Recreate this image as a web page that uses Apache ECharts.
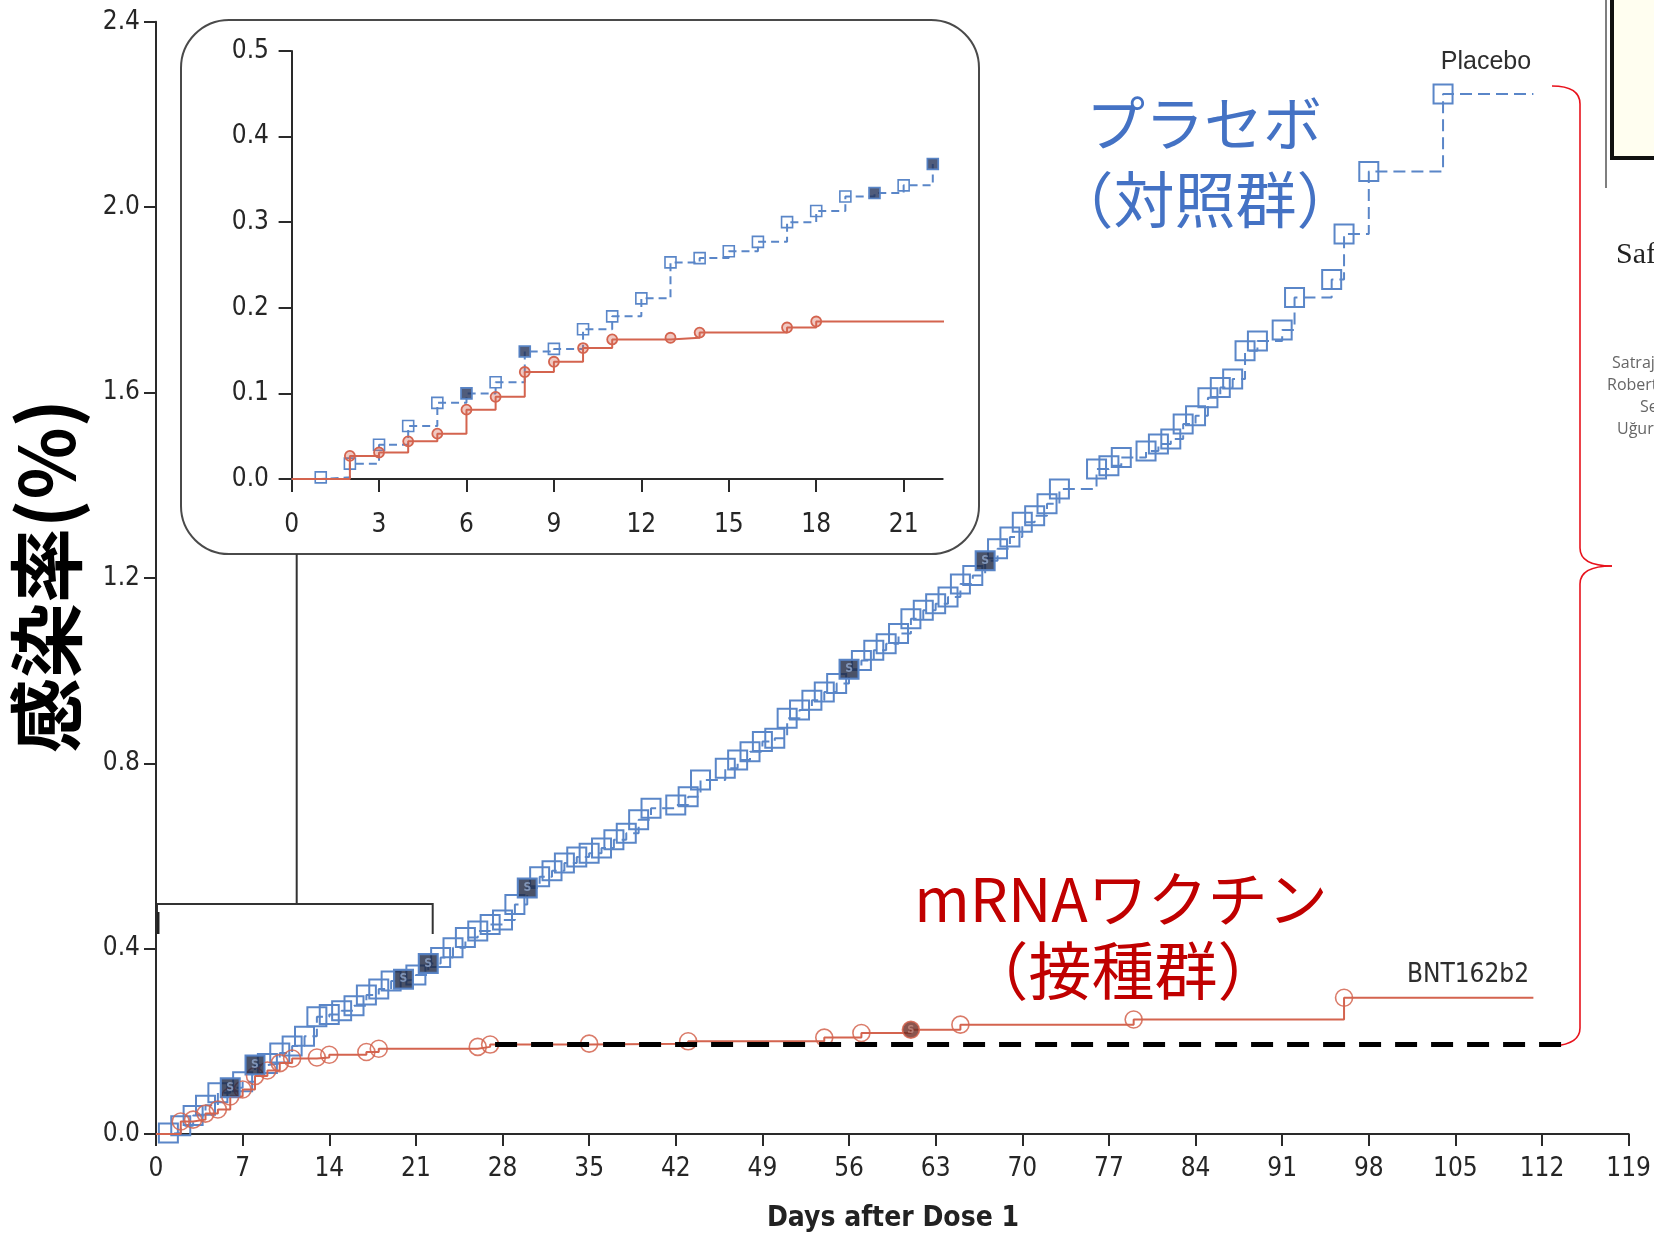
<!DOCTYPE html>
<html><head><meta charset="utf-8">
<script src="https://cdn.jsdelivr.net/npm/echarts@6/dist/echarts.min.js"></script>
<style>html,body{margin:0;padding:0;background:#fff}#c{width:1654px;height:1234px}</style>
</head><body><div id="c"></div>
<script>
// ---- data (days after dose 1, cumulative incidence %) ----
const placeboDays = [1,2,3,4,5,6,7,8,9,10,11,12,13,14,15,16,17,18,19,20,21,22,
  23,24,25,26,27,28,29,30,31,32,33,34,35,36,37,38,39,40,42,43,44,46,47,48,49,50,51,52,53,54,55,56,
  57,58,59,60,61,62,63,64,65,66,67,68,69,70,71,72,73,76,77,78,80,81,82,83,84,85,86,87,88,89,91,92,95,96,98,104];
const placeboRate = [0.002,0.018,0.040,0.062,0.089,0.100,0.113,0.149,0.152,0.175,0.190,0.211,0.253,0.258,0.266,0.277,0.300,0.313,0.330,0.334,0.343,0.368,
  0.381,0.402,0.424,0.438,0.452,0.462,0.495,0.531,0.555,0.568,0.585,0.598,0.606,0.617,0.635,0.649,0.678,0.703,0.710,0.728,0.764,0.789,0.807,0.825,0.847,0.854,0.897,0.915,0.936,0.954,0.972,1.003,
  1.022,1.044,1.058,1.080,1.112,1.130,1.144,1.159,1.187,1.205,1.237,1.263,1.288,1.320,1.334,1.360,1.392,1.435,1.442,1.460,1.474,1.489,1.500,1.532,1.550,1.589,1.611,1.629,1.690,1.711,1.735,1.805,1.844,1.942,2.077,2.244];
const placeboSevereDays = [6,8,20,22,30,56,67];
const bntDays = [2,3,4,5,6,7,8,9,10,11,13,14,17,18,26,27,35,43,54,57,61,65,79,96];
const bntRate = [0.027,0.031,0.044,0.053,0.081,0.096,0.125,0.137,0.153,0.163,0.165,0.171,0.177,0.184,0.188,0.193,0.195,0.200,0.208,0.218,0.225,0.236,0.247,0.294];
const bntSevereDays = [61];
const followUpEndDay = 111.3;
const refLineDays = [27.4, 114.3];
const refLineLevel = 0.193;
const mainYTicks = [0,0.4,0.8,1.2,1.6,2.0,2.4];
const mainXTicks = [0,7,14,21,28,35,42,49,56,63,70,77,84,91,98,105,112,119];
const insetYTicks = [0,0.1,0.2,0.3,0.4,0.5];
const insetXTicks = [0,3,6,9,12,15,18,21];
const insetMaxDay = 22.34;

// ---- styling ----
const BLUE = '#5A86C8', RED = '#D4644F', AXC = '#2a2a2a';
const NUMF = "'Liberation Sans Narrow','DejaVu Sans Condensed','Liberation Sans',sans-serif";
const CJK = "'Noto Sans CJK JP','Noto Sans CJK SC',sans-serif";

function stepData(days, rates, endDay, maxDay) {
  const d = [{value:[0,0], symbol:'none'}];
  days.forEach((x,i)=>{ if (maxDay === undefined || x <= maxDay) d.push([x, rates[i]]); });
  if (endDay !== undefined) d.push({value:[endDay, rates[rates.length-1]], symbol:'none'});
  return d;
}
function severe(sdays, days, rates, maxDay) {
  return sdays.filter(s => maxDay === undefined || s <= maxDay).map(s => [s, rates[days.indexOf(s)]]);
}
const fmt1 = v => Number(v).toFixed(1);

const chart = echarts.init(document.getElementById('c'), null, {renderer:'canvas'});
const axisLine = {show:true, lineStyle:{color:AXC, width:2}};
const axisLabelBase = {color:'#262626', fontSize:26, fontFamily:NUMF};
const BR = '#E8121C';
const brace = [
  {type:'bezierCurve', silent:true, shape:{x1:1552,y1:86,cpx1:1580,cpy1:86,x2:1580,y2:104}, style:{fill:null, stroke:BR, lineWidth:1.6}},
  {type:'line', silent:true, shape:{x1:1580,y1:104,x2:1580,y2:548}, style:{stroke:BR, lineWidth:1.6}},
  {type:'bezierCurve', silent:true, shape:{x1:1580,y1:548,cpx1:1580,cpy1:566,x2:1612,y2:566}, style:{fill:null, stroke:BR, lineWidth:1.6}},
  {type:'bezierCurve', silent:true, shape:{x1:1612,y1:566,cpx1:1580,cpy1:566,x2:1580,y2:584}, style:{fill:null, stroke:BR, lineWidth:1.6}},
  {type:'line', silent:true, shape:{x1:1580,y1:584,x2:1580,y2:1028}, style:{stroke:BR, lineWidth:1.6}},
  {type:'bezierCurve', silent:true, shape:{x1:1580,y1:1028,cpx1:1580,cpy1:1044,x2:1554,y2:1046}, style:{fill:null, stroke:BR, lineWidth:1.6}}
];

const option = {
  animation:false,
  backgroundColor:'#fff',
  grid:[
    {left:156, top:21.8, width:1474, height:1112.2},
    {left:287, top:50.9, width:655.7, height:439.7}
  ],
  xAxis:[
    {gridIndex:0, type:'value', min:0, max:119, interval:7,
     axisLine, axisTick:{show:true, length:12, lineStyle:{color:AXC, width:2}},
     axisLabel:Object.assign({margin:22}, axisLabelBase), splitLine:{show:false}},
    {gridIndex:1, type:'value', min:-0.158, max:insetMaxDay,
     axisLine, axisTick:{show:true, length:13, lineStyle:{color:AXC, width:2}, customValues:insetXTicks},
     axisLabel:Object.assign({margin:22, customValues:insetXTicks}, axisLabelBase), splitLine:{show:false}}
  ],
  yAxis:[
    {gridIndex:0, type:'value', min:0, max:2.4, interval:0.4,
     axisLine, axisTick:{show:true, length:12, lineStyle:{color:AXC, width:2}},
     axisLabel:Object.assign({margin:16, formatter:fmt1}, axisLabelBase), splitLine:{show:false}},
    {gridIndex:1, type:'value', min:-0.0135, max:0.5,
     axisLine, axisTick:{show:true, length:13, lineStyle:{color:AXC, width:2}, customValues:insetYTicks},
     axisLabel:Object.assign({margin:18, formatter:fmt1, customValues:insetYTicks}, axisLabelBase), splitLine:{show:false}}
  ],
  series:[
    {name:'Placebo', type:'line', xAxisIndex:0, yAxisIndex:0, step:'end',
     data:stepData(placeboDays, placeboRate, followUpEndDay),
     symbol:'rect', symbolSize:19, showAllSymbol:true,
     itemStyle:{color:'rgba(0,0,0,0)', borderColor:BLUE, borderWidth:2},
     lineStyle:{color:BLUE, width:2, type:[12,6]}, emphasis:{disabled:true}, z:2},
    {name:'BNT162b2', type:'line', xAxisIndex:0, yAxisIndex:0, step:'end',
     data:stepData(bntDays, bntRate, followUpEndDay),
     symbol:'circle', symbolSize:17, showAllSymbol:true,
     itemStyle:{color:'rgba(0,0,0,0)', borderColor:'rgba(212,100,79,0.85)', borderWidth:1.6},
     lineStyle:{color:RED, width:2}, emphasis:{disabled:true}, z:3},
    {name:'ref', type:'line', xAxisIndex:0, yAxisIndex:0,
     data:refLineDays.map(d=>[d, refLineLevel]), symbol:'none',
     lineStyle:{color:'#000', width:5, type:[22,14]}, emphasis:{disabled:true}, z:4},
    {name:'Placebo severe', type:'scatter', xAxisIndex:0, yAxisIndex:0,
     data:severe(placeboSevereDays, placeboDays, placeboRate), symbol:'rect', symbolSize:18,
     itemStyle:{color:'#1d2742', borderColor:BLUE, borderWidth:1.5},
     label:{show:true, formatter:'S', position:'inside', color:'#8fa6cc', fontSize:12, fontWeight:'bold', fontFamily:NUMF},
     emphasis:{disabled:true}, z:5},
    {name:'BNT severe', type:'scatter', xAxisIndex:0, yAxisIndex:0,
     data:severe(bntSevereDays, bntDays, bntRate), symbol:'circle', symbolSize:16,
     itemStyle:{color:'#6e2b22', borderColor:RED, borderWidth:1},
     label:{show:true, formatter:'S', position:'inside', color:'#c48a80', fontSize:11, fontWeight:'bold', fontFamily:NUMF},
     emphasis:{disabled:true}, z:5},
    // inset
    {name:'Placebo inset', type:'line', xAxisIndex:1, yAxisIndex:1, step:'end',
     data:stepData(placeboDays, placeboRate, undefined, 22),
     symbol:'rect', symbolSize:11, showAllSymbol:true,
     itemStyle:{color:'rgba(0,0,0,0)', borderColor:BLUE, borderWidth:1.6},
     lineStyle:{color:BLUE, width:2, type:[8,5]}, emphasis:{disabled:true}, z:2},
    {name:'BNT inset', type:'line', xAxisIndex:1, yAxisIndex:1, step:'end',
     data:stepData(bntDays, bntRate, followUpEndDay), clip:true,
     symbol:'circle', symbolSize:10, showAllSymbol:true,
     itemStyle:{color:'rgba(212,100,79,0.35)', borderColor:RED, borderWidth:1.8},
     lineStyle:{color:RED, width:2}, emphasis:{disabled:true}, z:3},
    {name:'Placebo severe inset', type:'scatter', xAxisIndex:1, yAxisIndex:1,
     data:severe(placeboSevereDays, placeboDays, placeboRate, 22), symbol:'rect', symbolSize:10,
     itemStyle:{color:'#24335a', borderColor:BLUE, borderWidth:1},
     emphasis:{disabled:true}, z:5}
  ],
  graphic:[
    {type:'rect', z:-10, silent:true, shape:{x:181, y:20, width:798, height:534, r:48},
     style:{fill:'#fff', stroke:'#4a4a4a', lineWidth:2}},
    {type:'polyline', silent:true, shape:{points:[[157,934],[157,904],[432.7,904],[432.7,934]]},
     style:{fill:null, stroke:'#333', lineWidth:2}},
    {type:'line', silent:true, shape:{x1:158, y1:912, x2:158, y2:934}, style:{stroke:'#222', lineWidth:3}},
    {type:'line', silent:true, shape:{x1:296.7, y1:554, x2:296.7, y2:904}, style:{stroke:'#333', lineWidth:2}}
  ].concat(brace, [
    {type:'text', silent:true, style:{text:'プラセボ', x:1204, y:124, align:'center', verticalAlign:'middle', fontSize:59, fontFamily:CJK, fill:'#4472C4'}},
    {type:'text', silent:true, style:{text:'（対照群）', x:1205, y:200, align:'center', verticalAlign:'middle', fontSize:61, fontFamily:CJK, fill:'#4472C4'}},
    {type:'text', silent:true, style:{text:'mRNAワクチン', x:1121, y:899, align:'center', verticalAlign:'middle', fontSize:60, fontFamily:CJK, fill:'#C00000'}},
    {type:'text', silent:true, style:{text:'（接種群）', x:1123, y:970, align:'center', verticalAlign:'middle', fontSize:63, fontFamily:CJK, fill:'#C00000'}},
    {type:'text', silent:true, style:{text:'Placebo', x:1486, y:62, align:'center', verticalAlign:'middle', fontSize:25, fontFamily:"'Liberation Sans',sans-serif", fill:'#2e2e2e'}},
    {type:'text', silent:true, style:{text:'BNT162b2', x:1468, y:975, align:'center', verticalAlign:'middle', fontSize:26, fontFamily:NUMF, fill:'#2e2e2e'}},
    {type:'text', silent:true, x:46, y:576, rotation:Math.PI/2,
     style:{text:'感染率(%)', x:0, y:0, align:'center', verticalAlign:'middle', fontSize:75, fontWeight:'bold', fontFamily:CJK, fill:'#000'}},
    {type:'text', silent:true, style:{text:'Days after Dose 1', x:893, y:1219, align:'center', verticalAlign:'middle', fontSize:28, fontWeight:'bold', fontFamily:NUMF, fill:'#222'}},
    {type:'rect', silent:true, shape:{x:1612, y:-6, width:60, height:164}, style:{fill:'#FFFEF0', stroke:'#111', lineWidth:4}},
    {type:'line', silent:true, shape:{x1:1606, y1:0, x2:1606, y2:188}, style:{stroke:'#555', lineWidth:1.5}},
    {type:'text', silent:true, style:{text:'Saf', x:1616, y:255, verticalAlign:'middle', fontSize:30, fontFamily:"'Liberation Serif',serif", fill:'#222'}},
    {type:'text', silent:true, style:{text:'Satraj', x:1612, y:363, verticalAlign:'middle', fontSize:16, fontFamily:"'Open Sans',sans-serif", fill:'#666'}},
    {type:'text', silent:true, style:{text:'Robert', x:1607, y:385, verticalAlign:'middle', fontSize:16, fontFamily:"'Open Sans',sans-serif", fill:'#666'}},
    {type:'text', silent:true, style:{text:'Se', x:1640, y:407, verticalAlign:'middle', fontSize:16, fontFamily:"'Open Sans',sans-serif", fill:'#666'}},
    {type:'text', silent:true, style:{text:'Uğur', x:1617, y:429, verticalAlign:'middle', fontSize:16, fontFamily:"'Open Sans',sans-serif", fill:'#666'}}
  ])
};
chart.setOption(option);
</script></body></html>
